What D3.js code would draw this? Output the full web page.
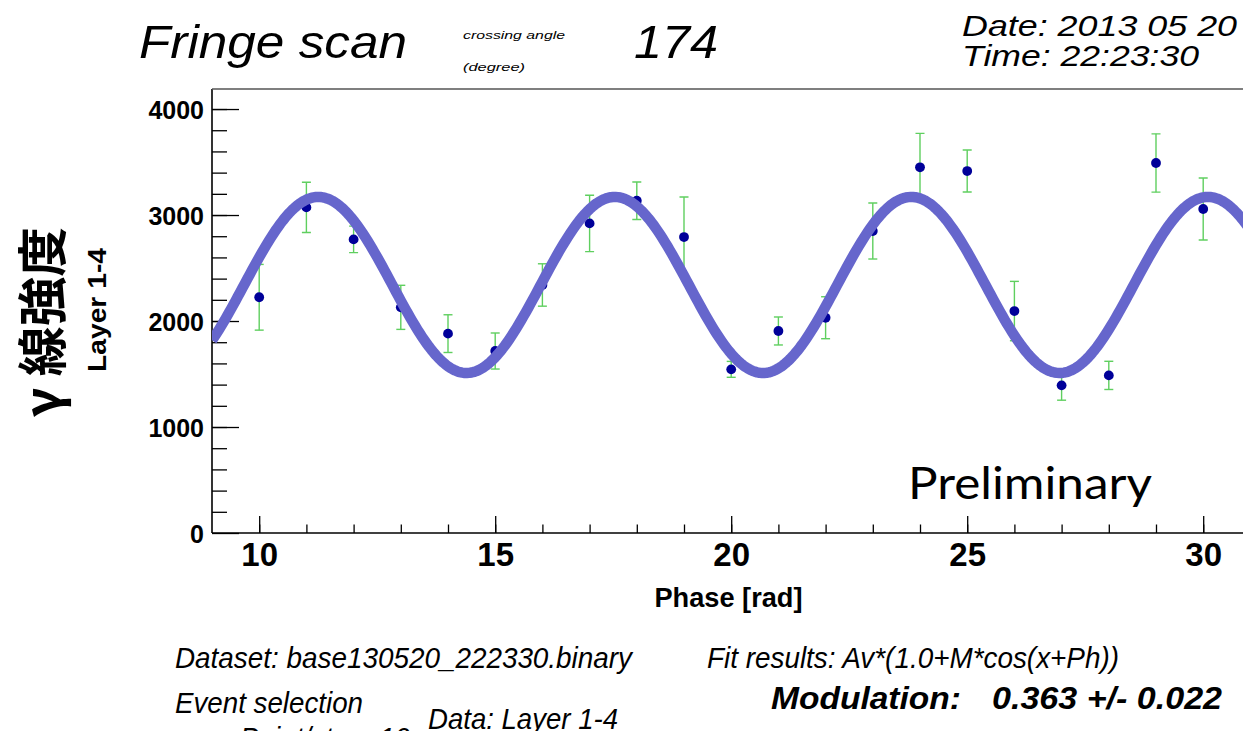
<!DOCTYPE html>
<html>
<head>
<meta charset="utf-8">
<script src="https://cdn.jsdelivr.net/npm/d3@7"></script>
<style>
  body { margin: 0; background: #fff; }
  svg { display: block; }
  .tick text { font-family: "Liberation Sans", Arial, sans-serif; font-weight: bold; fill: #000; }
  .tick line { stroke: #000; stroke-width: 1.3; }
</style>
</head>
<body>
<div class="container"></div>
<script>
const WIDTH = 1243;
const HEIGHT = 731;
const PLOT = {left: 212, right: 1250.4, top: 89, bottom: 533};

// measured points, one per phase step
var phase  = [10, 11, 12, 13, 14, 15, 16, 17, 18, 19, 20, 21, 22, 23, 24, 25, 26, 27, 28, 29, 30];
var counts = [2224, 3072, 2770, 2129, 1881, 1717, 2340, 2921, 3135, 2792, 1544,
              1906, 2031, 2849, 3450, 3415, 2094, 1393, 1487, 3491, 3057];
var errors = [310, 237, 125, 208, 178, 170, 200, 266, 177, 378, 75,
              132, 198, 264, 320, 198, 280, 140, 133, 275, 293];

// fit: Av*(1.0+M*cos(x+Ph))
var fitAv = 2340;
var fitM  = 0.355;
var fitPh = 1.316;

var xMajor = [10, 15, 20, 25, 30];
var yMajor = [0, 1000, 2000, 3000, 4000];

var FONT = '"Liberation Sans", Arial, sans-serif';

var svg = d3.select(".container")
    .append("svg")
    .attr("width", WIDTH)
    .attr("height", HEIGHT);

var x = d3.scaleLinear().domain([9, 31]).range([PLOT.left, PLOT.right]);
var y = d3.scaleLinear().domain([0, 4189]).range([PLOT.bottom, PLOT.top]);

svg.append("clipPath").attr("id", "clip")
    .append("rect")
    .attr("x", PLOT.left).attr("y", PLOT.top)
    .attr("width", PLOT.right - PLOT.left)
    .attr("height", PLOT.bottom - PLOT.top);

// minor ticks
svg.append("g")
    .attr("transform", "translate(" + PLOT.left + ",0)")
    .call(d3.axisLeft(y).tickValues(d3.range(200, 4189, 200)).tickSize(-15).tickSizeOuter(0).tickFormat(""))
    .call(g => g.select(".domain").remove());
svg.append("g")
    .attr("transform", "translate(0," + PLOT.bottom + ")")
    .call(d3.axisBottom(x).tickValues(d3.range(10, 31, 1)).tickSize(-8.5).tickSizeOuter(0).tickFormat(""))
    .call(g => g.select(".domain").remove());

// major ticks + labels
svg.append("g")
    .attr("class", "y axis")
    .attr("transform", "translate(" + PLOT.left + ",0)")
    .call(d3.axisLeft(y).tickValues(yMajor).tickSize(-27).tickSizeOuter(0).tickPadding(8).tickFormat(d3.format("d")))
    .call(g => g.select(".domain").remove())
    .call(g => g.selectAll("text").style("font-size", "25px").attr("dy", "0.36em"));

svg.append("g")
    .attr("class", "x axis")
    .attr("transform", "translate(0," + PLOT.bottom + ")")
    .call(d3.axisBottom(x).tickValues(xMajor).tickSize(-17).tickSizeOuter(0).tickPadding(10))
    .call(g => g.select(".domain").remove())
    .call(g => g.selectAll("text").style("font-size", "33px"));

// frame lines
svg.append("line")
    .attr("x1", PLOT.left).attr("x2", PLOT.left)
    .attr("y1", PLOT.top).attr("y2", PLOT.bottom)
    .attr("stroke", "#000").attr("stroke-width", 1.6);
svg.append("line")
    .attr("x1", PLOT.left).attr("x2", WIDTH)
    .attr("y1", PLOT.bottom).attr("y2", PLOT.bottom)
    .attr("stroke", "#000").attr("stroke-width", 1.6);
svg.append("line")
    .attr("x1", PLOT.left).attr("x2", WIDTH)
    .attr("y1", PLOT.top).attr("y2", PLOT.top)
    .attr("stroke", "#555").attr("stroke-width", 1.4);

var data = phase.map(function(p, i) { return {x: p, y: counts[i], e: errors[i]}; });
var plot = svg.append("g").attr("clip-path", "url(#clip)");

// error bars
var bars = plot.selectAll(".err").data(data).enter().append("g")
    .attr("stroke", "#5fcf5f").attr("stroke-width", 1.4);
bars.append("line")
    .attr("x1", d => x(d.x)).attr("x2", d => x(d.x))
    .attr("y1", d => y(d.y - d.e)).attr("y2", d => y(d.y + d.e));
bars.append("line")
    .attr("x1", d => x(d.x) - 4.5).attr("x2", d => x(d.x) + 4.5)
    .attr("y1", d => y(d.y + d.e)).attr("y2", d => y(d.y + d.e));
bars.append("line")
    .attr("x1", d => x(d.x) - 4.5).attr("x2", d => x(d.x) + 4.5)
    .attr("y1", d => y(d.y - d.e)).attr("y2", d => y(d.y - d.e));

plot.selectAll(".dot").data(data).enter().append("circle")
    .attr("cx", d => x(d.x))
    .attr("cy", d => y(d.y))
    .attr("r", 4.9)
    .attr("fill", "#000099");

// fit curve drawn over the points
var fitLine = d3.line()
    .x(d => x(d))
    .y(d => y(fitAv * (1.0 + fitM * Math.cos(d + fitPh))));
plot.append("path")
    .attr("d", fitLine(d3.range(9, 31.01, 0.05)))
    .attr("fill", "none")
    .attr("stroke", "#6666cc")
    .attr("stroke-width", 10.5)
    .attr("stroke-linejoin", "round");

// texts
function label(t, px, py, size, opts) {
    opts = opts || {};
    var el = svg.append("text")
        .attr("x", px).attr("y", py)
        .style("font-family", opts.family || FONT)
        .style("font-size", size + "px")
        .style("font-style", opts.italic ? "italic" : "normal")
        .style("font-weight", opts.bold ? "bold" : "normal")
        .attr("fill", opts.fill || "#000")
        .text(t);
    if (opts.len) el.attr("textLength", opts.len).attr("lengthAdjust", "spacingAndGlyphs");
    if (opts.anchor) el.attr("text-anchor", opts.anchor);
    if (opts.transform) el.attr("transform", opts.transform);
    return el;
}

label("Fringe scan", 139, 58, 47, {italic: true, len: 268});
label("crossing angle", 463, 39, 11, {italic: true, len: 102});
label("(degree)", 463, 71, 11, {italic: true, len: 62});
label("174", 634, 58, 47, {italic: true, len: 84});
label("Date: 2013 05 20", 962, 36, 30, {italic: true, len: 275});
label("Time: 22:23:30", 962, 66, 30, {italic: true, len: 237});

label("γ 線強度", 0, 0, 50, {bold: true, family: '"Noto Sans CJK JP", sans-serif', anchor: "middle",
    len: 190, transform: "translate(61,322) rotate(-90)"});
label("Layer 1-4", 0, 0, 26, {bold: true, anchor: "middle", len: 124, transform: "translate(106,310) rotate(-90)"});

label("Phase [rad]", 728.5, 607, 27, {bold: true, anchor: "middle", len: 148});
label("Preliminary", 908, 499, 44, {family: 'Lato, "Noto Sans", sans-serif', len: 244});

label("Dataset: base130520_222330.binary", 175, 668, 29, {italic: true, len: 457});
label("Fit results: Av*(1.0+M*cos(x+Ph))", 707, 668, 29, {italic: true, len: 412});
label("Event selection", 175, 713, 29, {italic: true, len: 188});
label("Modulation:", 771, 709, 32, {italic: true, bold: true, len: 190});
label("0.363 +/- 0.022", 992, 709, 32, {italic: true, bold: true, len: 230});
label("Data: Layer 1-4", 428, 729, 29, {italic: true, len: 190});
label("Point/step: 10", 240, 748, 29, {italic: true, len: 170});
</script>
</body>
</html>
